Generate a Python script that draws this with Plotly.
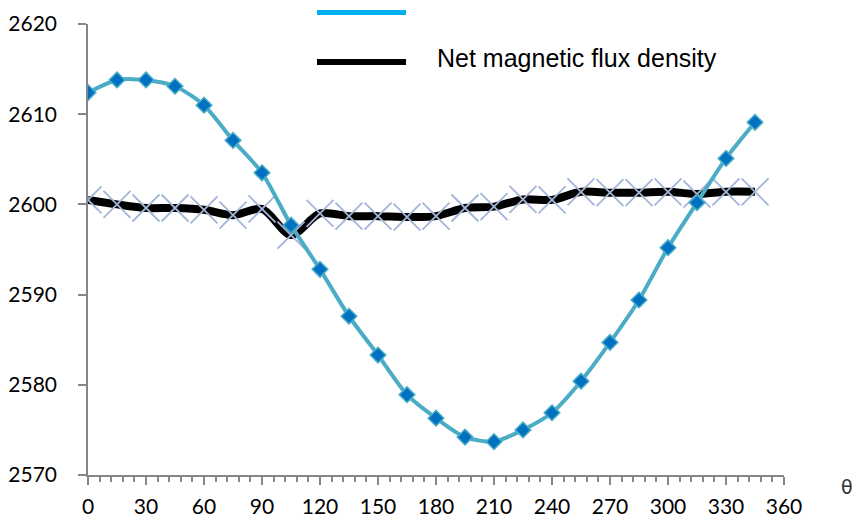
import plotly.graph_objects as go

# Data
theta = [0, 15, 30, 45, 60, 75, 90, 105, 120, 135, 150, 165,
         180, 195, 210, 225, 240, 255, 270, 285, 300, 315, 330, 345]
series_a = [2612.4, 2613.8, 2613.8, 2613.1, 2611.0, 2607.1, 2603.5, 2597.7,
            2592.8, 2587.6, 2583.3, 2578.9, 2576.3, 2574.2, 2573.7, 2575.0,
            2576.9, 2580.4, 2584.7, 2589.4, 2595.2, 2600.2, 2605.1, 2609.1]
net_flux = [2600.5, 2600.0, 2599.6, 2599.6, 2599.4, 2598.8, 2599.5, 2596.6,
            2599.0, 2598.7, 2598.7, 2598.6, 2598.7, 2599.6, 2599.75, 2600.55,
            2600.5, 2601.4, 2601.3, 2601.3, 2601.4, 2601.15, 2601.4, 2601.4]
legend_names = ["", "Net magnetic flux density"]
x_ticks = list(range(0, 361, 30))
y_ticks = list(range(2570, 2621, 10))

fig = go.Figure()

fig.add_trace(go.Scatter(
    x=theta, y=net_flux, mode="lines+markers",
    line=dict(color="black", width=8, shape="spline", smoothing=0.8),
    marker=dict(symbol="x-thin-open", size=27, color="#A3B5D8",
                line=dict(color="#A3B5D8", width=1.8)),
    showlegend=False,
))
fig.add_trace(go.Scatter(
    x=theta, y=series_a, mode="lines+markers",
    line=dict(color="#4BACC6", width=4, shape="spline", smoothing=0.7),
    marker=dict(symbol="diamond", size=12, color="#0070C0",
                line=dict(color="#4BACC6", width=1.5)),
    showlegend=False,
))

# Legend drawn as shapes + text
fig.add_shape(type="line", xref="paper", yref="paper",
              x0=(317 - 88) / 696, x1=(406 - 88) / 696,
              y0=(475 - 12.5) / 451, y1=(475 - 12.5) / 451,
              line=dict(color="#00B0F0", width=5))
fig.add_shape(type="line", xref="paper", yref="paper",
              x0=(317 - 88) / 696, x1=(406 - 88) / 696,
              y0=(475 - 62) / 451, y1=(475 - 62) / 451,
              line=dict(color="black", width=6))
fig.add_annotation(text=legend_names[1], xref="paper", yref="paper",
                   x=(435 - 88) / 696, y=(475 - 58) / 451,
                   xanchor="left", yanchor="middle", showarrow=False,
                   font=dict(family="Liberation Sans, Arial", size=25, color="black"))
fig.add_annotation(text="θ", xref="paper", yref="paper",
                   x=(847 - 88) / 696, y=(475 - 487) / 451,
                   xanchor="center", yanchor="middle", showarrow=False,
                   font=dict(family="DejaVu Sans", size=19, color="#333333"))

axis_font = dict(family="Lato, Open Sans", size=21, color="black")
fig.update_xaxes(
    range=[0, 360], tickvals=x_ticks, ticktext=[str(v) for v in x_ticks],
    showgrid=False, zeroline=False, automargin=False,
    showline=True, linecolor="#868686", linewidth=1.5,
    ticks="outside", ticklen=8, tickcolor="#868686", tickwidth=1.5,
    minor=dict(dtick=6, tick0=0, ticks="outside", ticklen=5,
               tickcolor="#868686", tickwidth=1.5, showgrid=False),
    tickfont=axis_font, ticklabelstandoff=4,
)
fig.update_yaxes(
    range=[2570, 2620], tickvals=y_ticks, ticktext=[str(v) for v in y_ticks],
    showgrid=False, zeroline=False, automargin=False,
    showline=True, linecolor="#868686", linewidth=1.5,
    ticks="outside", ticklen=8, tickcolor="#868686", tickwidth=1.5,
    tickfont=axis_font, ticklabelstandoff=17,
)
fig.update_layout(
    width=859, height=525,
    margin=dict(l=88, r=75, t=24, b=50),
    paper_bgcolor="white", plot_bgcolor="white",
    showlegend=False,
)
fig.write_html("out.html", config={"displayModeBar": False},
               post_script="document.body.style.margin='0';")
